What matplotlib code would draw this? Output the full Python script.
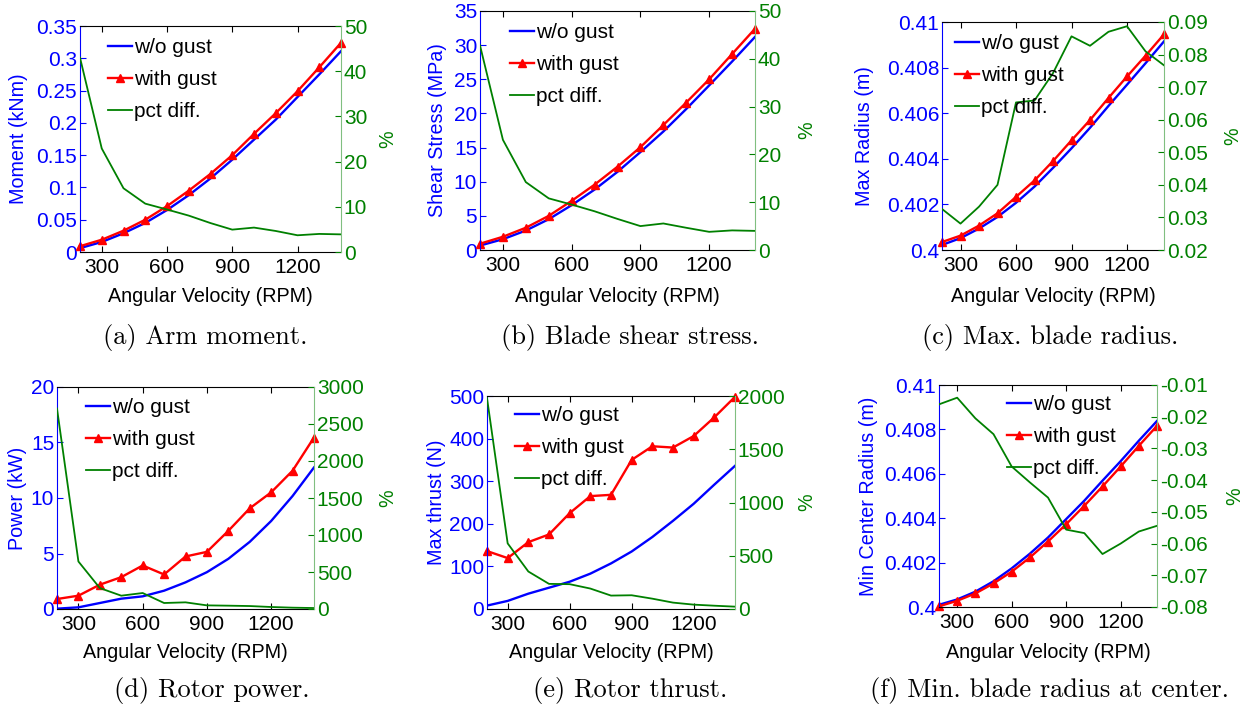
import matplotlib
matplotlib.use('Agg')
import matplotlib.pyplot as plt
from matplotlib.ticker import FuncFormatter

plt.rcParams['font.family'] = ['Liberation Sans', 'DejaVu Sans']
plt.rcParams['font.size'] = 14

# ---------------- data ----------------
rpm = [200, 300, 400, 500, 600, 700, 800, 900, 1000, 1100, 1200, 1300, 1400]

moment_wo = [0.006, 0.0155, 0.029, 0.045, 0.065, 0.088, 0.114, 0.143, 0.174, 0.205, 0.240, 0.275, 0.311]
moment_with = [0.009, 0.019, 0.033, 0.050, 0.071, 0.095, 0.121, 0.150, 0.183, 0.215, 0.249, 0.286, 0.324]
moment_pct = [43.0, 22.9, 14.1, 10.7, 9.4, 8.05, 6.4, 4.95, 5.4, 4.65, 3.7, 4.0, 3.9]

shear_wo = [0.65, 1.58, 2.85, 4.51, 6.57, 8.85, 11.45, 14.34, 17.35, 20.65, 24.1, 27.6, 31.2]
shear_with = [0.92, 1.94, 3.26, 5.0, 7.2, 9.57, 12.2, 15.06, 18.3, 21.6, 25.0, 28.7, 32.4]
shear_pct = [42.8, 23.05, 14.2, 10.8, 9.5, 8.1, 6.5, 5.0, 5.55, 4.65, 3.8, 4.1, 4.0]

maxr_wo = [0.40022, 0.40052, 0.40094, 0.40145, 0.40207, 0.40278, 0.40360, 0.40446, 0.40536, 0.40632, 0.40725, 0.40819, 0.40915]
maxr_with = [0.40035, 0.40063, 0.40107, 0.40161, 0.40233, 0.40305, 0.40390, 0.40481, 0.40570, 0.40667, 0.40761, 0.40852, 0.40946]
maxr_pct = [0.0326, 0.0281, 0.0333, 0.0400, 0.0653, 0.0659, 0.0743, 0.0856, 0.0827, 0.0870, 0.0887, 0.0810, 0.0767]

power_wo = [0.03, 0.15, 0.54, 0.93, 1.14, 1.65, 2.40, 3.32, 4.52, 6.05, 7.93, 10.18, 12.75]
power_with = [0.90, 1.20, 2.19, 2.87, 3.92, 3.11, 4.73, 5.15, 7.04, 9.07, 10.51, 12.46, 15.45]
power_pct = [2709, 642, 283, 180, 216, 81, 90, 49, 45, 40, 27, 18, 13]

thrust_wo = [8, 19, 36, 50, 64, 83, 107, 135, 169, 207, 247, 292, 336]
thrust_with = [136, 119.5, 157, 175, 225, 265, 268, 350, 382, 379, 406, 450, 498]
thrust_pct = [1981, 616, 352, 236, 233, 192, 126, 129, 97, 60, 41, 31, 22]

minr_wo = [0.40010, 0.40034, 0.40069, 0.40116, 0.40174, 0.40240, 0.40313, 0.40396, 0.40479, 0.40569, 0.40657, 0.40749, 0.40838]
minr_with = [0.40003, 0.40028, 0.40061, 0.40106, 0.40159, 0.40223, 0.40295, 0.40373, 0.40456, 0.40543, 0.40633, 0.40726, 0.40816]
minr_pct = [-0.0161, -0.0140, -0.0205, -0.0255, -0.0357, -0.0407, -0.0455, -0.0556, -0.0567, -0.0633, -0.0600, -0.0562, -0.0544]

x_ticks = [300, 600, 900, 1200]
x_label = 'Angular Velocity (RPM)'
legend_labels = ['w/o gust', 'with gust', 'pct diff.']

panels = [
    dict(wo=moment_wo, wi=moment_with, pct=moment_pct, ylabel='Moment (kNm)',
         yl=(0, 0.35), yt=[0, 0.05, 0.1, 0.15, 0.2, 0.25, 0.3, 0.35],
         y2l=(0, 50), y2t=[0, 10, 20, 30, 40, 50],
         caption='(a) Arm moment.'),
    dict(wo=shear_wo, wi=shear_with, pct=shear_pct, ylabel='Shear Stress (MPa)',
         yl=(0, 35), yt=[0, 5, 10, 15, 20, 25, 30, 35],
         y2l=(0, 50), y2t=[0, 10, 20, 30, 40, 50],
         caption='(b) Blade shear stress.'),
    dict(wo=maxr_wo, wi=maxr_with, pct=maxr_pct, ylabel='Max Radius (m)',
         yl=(0.4, 0.41), yt=[0.4, 0.402, 0.404, 0.406, 0.408, 0.41],
         y2l=(0.02, 0.09), y2t=[0.02, 0.03, 0.04, 0.05, 0.06, 0.07, 0.08, 0.09],
         caption='(c) Max. blade radius.'),
    dict(wo=power_wo, wi=power_with, pct=power_pct, ylabel='Power (kW)',
         yl=(0, 20), yt=[0, 5, 10, 15, 20],
         y2l=(0, 3000), y2t=[0, 500, 1000, 1500, 2000, 2500, 3000],
         caption='(d) Rotor power.'),
    dict(wo=thrust_wo, wi=thrust_with, pct=thrust_pct, ylabel='Max thrust (N)',
         yl=(0, 500), yt=[0, 100, 200, 300, 400, 500],
         y2l=(0, 2000), y2t=[0, 500, 1000, 1500, 2000],
         caption='(e) Rotor thrust.'),
    dict(wo=minr_wo, wi=minr_with, pct=minr_pct, ylabel='Min Center Radius (m)',
         yl=(0.4, 0.41), yt=[0.4, 0.402, 0.404, 0.406, 0.408, 0.41],
         y2l=(-0.08, -0.01), y2t=[-0.08, -0.07, -0.06, -0.05, -0.04, -0.03, -0.02, -0.01],
         caption='(f) Min. blade radius at center.'),
]

# ---------------- layout (pixels) ----------------
W, H = 1256, 711
# left, top, right, bottom of axes box
boxes = [(80, 26, 341, 252), (480, 11, 755, 250), (942, 22, 1164, 250),
         (57, 387, 314, 609), (487, 396, 735, 609), (939, 385, 1157, 607)]
ylabel_x = [19, 437, 865, 18, 437, 868]
y2label_x = [388, 807, 1233, 388, 807, 1235]
xlabel_y = [296, 296, 296, 653, 653, 653]
legend_xy = [(108, 38), (510, 23), (955, 34), (86, 398), (515, 406), (1007, 395)]
caption_xy = [(205, 337), (630, 337), (1050, 337), (212, 690), (630, 690), (1050, 690)]

BLUE = (0, 0, 1)
RED = (1, 0, 0)
GREEN = (0, 0.5, 0)
TICK_FS = 15
LABEL_FS = 14.2

fig = plt.figure(figsize=(W / 100, H / 100), dpi=100)
fmt = FuncFormatter(lambda v, p: '%g' % round(v, 6))

for i, p in enumerate(panels):
    l, t, r, b = boxes[i]
    ax = fig.add_axes([l / W, 1 - b / H, (r - l) / W, (b - t) / H])
    h1, = ax.plot(rpm, p['wo'], color=BLUE, lw=1.7)
    h2, = ax.plot(rpm, p['wi'], color=RED, lw=1.7, marker='^', ms=5.5, clip_on=False)
    ax.set_xlim(200, 1400)
    ax.set_xticks(x_ticks)
    ax.set_ylim(*p['yl'])
    ax.set_yticks(p['yt'])
    ax.yaxis.set_major_formatter(fmt)
    ax.tick_params(axis='x', direction='in', top=True, length=4, pad=4, labelsize=TICK_FS)
    ax.tick_params(axis='y', direction='in', colors=BLUE, length=4, pad=2, labelsize=TICK_FS)
    ax.spines['left'].set_color(BLUE)
    ax.spines['right'].set_visible(False)
    ax.set_ylabel(p['ylabel'], color=BLUE, fontsize=LABEL_FS)
    ax.yaxis.set_label_coords((ylabel_x[i] - l) / (r - l), 0.5)
    ax.yaxis.label.set_va('center')
    ax.set_xlabel(x_label, fontsize=LABEL_FS)
    ax.xaxis.set_label_coords(0.5, (b - xlabel_y[i]) / (b - t))
    ax.xaxis.label.set_va('center')

    ax2 = ax.twinx()
    h3, = ax2.plot(rpm, p['pct'], color=GREEN, lw=1.3)
    ax2.set_xlim(200, 1400)
    ax2.set_ylim(*p['y2l'])
    ax2.set_yticks(p['y2t'])
    ax2.yaxis.set_major_formatter(fmt)
    ax2.tick_params(axis='y', direction='in', colors=GREEN, length=4, pad=2, labelsize=TICK_FS)
    ax2.spines['right'].set_color((0.5, 0.75, 0.5))
    ax2.spines['left'].set_visible(False)
    ax2.spines['top'].set_visible(False)
    ax2.spines['bottom'].set_visible(False)
    ax2.set_ylabel('%', color=GREEN, fontsize=LABEL_FS)
    ax2.yaxis.set_label_coords((y2label_x[i] - l) / (r - l), 0.5)
    ax2.yaxis.label.set_va('center')

    lx, ly = legend_xy[i]
    ax2.legend([h1, h2, h3], legend_labels, loc='upper left',
               bbox_to_anchor=(lx / W, 1 - ly / H), bbox_transform=fig.transFigure,
               frameon=False, borderpad=0, borderaxespad=0, handlelength=1.15,
               handletextpad=0.1, labelspacing=0.62, fontsize=TICK_FS, numpoints=1)

    cx, cy = caption_xy[i]
    fig.text(cx / W, 1 - cy / H, p['caption'], family=['cmr10', 'DejaVu Serif'],
             fontsize=19, ha='center', va='center')

fig.savefig('out.png', dpi=100)
